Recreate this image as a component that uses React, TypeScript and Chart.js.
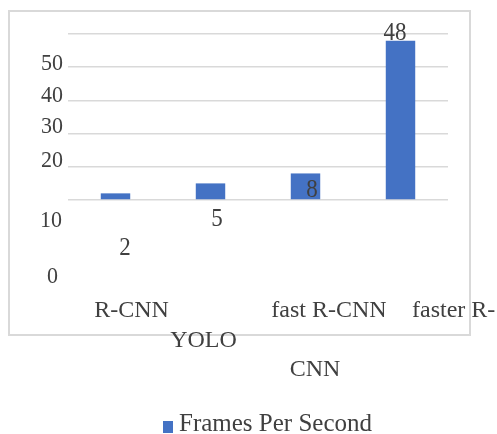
import React, { useEffect, useRef } from "react";
import { Chart, registerables } from "chart.js";

Chart.register(...registerables);

// Detection models and their throughput
const MODELS = ["R-CNN", "YOLO", "fast R-CNN", "faster R-CNN"];
// Label lines as they appear under each bar
const MODEL_LABEL_LINES = [["R-CNN"], ["YOLO"], ["fast R-CNN"], ["faster R-", "CNN"]];
const FPS = [2, 5, 8, 48];
const SERIES_NAME = "Frames Per Second";
const Y_TICKS = [0, 10, 20, 30, 40, 50];

const W = 497;
const H = 434;
const FONT = '"Liberation Serif", "Times New Roman", serif';
const TEXT = "#404040";
const BAR = "#4472C4";
const FRAME = "#d9d9d9";

// Offsets of the text pieces relative to the scale positions they belong to
const TICK_SHIFT: Record<number, [number, number]> = {
  50: [-5, 36],
  40: [-5, 35],
  30: [-5, 33],
  20: [-5, 33],
  10: [-6, 60],
  0: [-10, 83],
};
const VALUE_SHIFT: [number, number][] = [
  [9.5, 61.5],
  [6.5, 42.5],
  [6.5, 23.5],
  [-5.5, -1],
];
// [dx, baseline y, align] per line of each category label
const CAT_SHIFT: [number, number, CanvasTextAlign][][] = [
  [[16, 317, "center"]],
  [[-7, 347, "center"]],
  [[23.5, 317, "center"]],
  [
    [11.5, 317, "left"],
    [-85.5, 376, "center"],
  ],
];

// Numbers are set in a slightly tall face
function tallText(ctx: CanvasRenderingContext2D, s: string, x: number, y: number, sy: number) {
  ctx.save();
  ctx.translate(x, y);
  ctx.scale(1, sy);
  ctx.fillText(s, 0, 0);
  ctx.restore();
}

const paperPlugin = {
  id: "paper",
  beforeDraw(chart: any) {
    const { ctx } = chart;
    ctx.save();
    ctx.fillStyle = "#ffffff";
    ctx.fillRect(0, 0, W, H);
    ctx.strokeStyle = FRAME;
    ctx.lineWidth = 2;
    ctx.strokeRect(9, 11, 461, 324);
    ctx.restore();
  },
  afterDraw(chart: any) {
    const { ctx, scales } = chart;
    const y = scales.y;
    const x = scales.x;
    const left = chart.chartArea.left;
    ctx.save();
    ctx.fillStyle = TEXT;
    ctx.textBaseline = "alphabetic";

    // value axis labels
    ctx.font = `22px ${FONT}`;
    ctx.textAlign = "right";
    Y_TICKS.forEach((v) => {
      const [dx, dy] = TICK_SHIFT[v];
      tallText(ctx, String(v), left + dx, y.getPixelForValue(v) + dy, 1.08);
    });

    // values next to the bars
    ctx.font = `23px ${FONT}`;
    ctx.textAlign = "center";
    FPS.forEach((v, i) => {
      const [dx, dy] = VALUE_SHIFT[i];
      tallText(ctx, String(v), x.getPixelForValue(i) + dx, y.getPixelForValue(v) + dy, 1.05);
    });

    // category labels
    ctx.font = `24px ${FONT}`;
    MODEL_LABEL_LINES.forEach((lines, i) => {
      lines.forEach((line, j) => {
        const [dx, by, align] = CAT_SHIFT[i][j];
        ctx.textAlign = align;
        ctx.fillText(line, x.getPixelForValue(i) + dx, by);
      });
    });

    // legend
    ctx.fillStyle = BAR;
    ctx.fillRect(163, 421, 10, 12);
    ctx.fillStyle = TEXT;
    ctx.font = `25px ${FONT}`;
    ctx.textAlign = "left";
    ctx.fillText(SERIES_NAME, 179, 431);
    ctx.restore();
  },
};

export default function App() {
  const ref = useRef<HTMLCanvasElement | null>(null);

  useEffect(() => {
    if (!ref.current) return;
    const chart = new Chart(ref.current, {
      type: "bar",
      data: {
        labels: MODELS,
        datasets: [
          {
            label: SERIES_NAME,
            data: FPS,
            backgroundColor: BAR,
            borderWidth: 0,
            barPercentage: 0.31,
            categoryPercentage: 1,
          },
        ],
      },
      options: {
        responsive: false,
        animation: false,
        layout: { padding: { left: 68, right: 49, top: 34, bottom: 234 } },
        plugins: {
          legend: { display: false },
          tooltip: { enabled: false },
        },
        scales: {
          x: {
            ticks: { display: false },
            grid: { display: false, drawTicks: false },
            border: { display: false },
          },
          y: {
            min: 0,
            max: 50,
            ticks: { display: false, stepSize: 10 },
            grid: { color: FRAME, lineWidth: 1.5, drawTicks: false },
            border: { display: false },
          },
        },
      },
      plugins: [paperPlugin],
    });
    return () => chart.destroy();
  }, []);

  return (
    <div style={{ position: "absolute", left: 0, top: 0, width: W, height: H }}>
      <canvas ref={ref} width={W} height={H} style={{ display: "block" }} />
    </div>
  );
}
